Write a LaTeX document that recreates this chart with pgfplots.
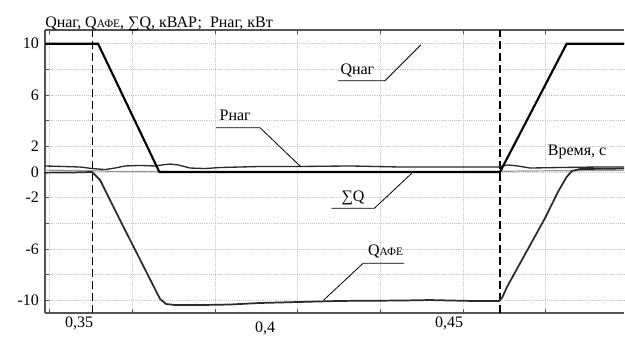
\documentclass[border=0pt]{standalone}
\usepackage{fontspec}
\setmainfont{Liberation Serif}
\usepackage{pgfplots}
\pgfplotsset{compat=1.18}
\definecolor{frame}{HTML}{555555}
\definecolor{curve}{HTML}{2A2A2A}
\newcommand\fs{\rmfamily\fontsize{12}{14}\selectfont}
\newcommand\sm{\rmfamily\fontsize{8.5}{10}\selectfont}
\begin{document}
\begin{tikzpicture}[font=\fs]
\begin{axis}[
 scale only axis, width=434.25pt, height=212.25pt,
 xmin=0.33887, xmax=0.47891, ymin=-10.99, ymax=11.07,
 axis x line*=box, axis y line*=left,
 axis line style={frame, line width=1.1pt},
 xtick={0.34,0.36,0.38,0.40,0.42,0.44,0.46}, xticklabels={,,,,,,},
 ytick={-10,-8,-6,-4,-2,0,2,4,6,8,10},
 yticklabels={-10,,-6,,-2,0,2,,6,,10},
 grid=major, major grid style={densely dotted, gray!45, line width=0.5pt},
 tick style={frame, line width=0.6pt}, major tick length=3pt, tick align=inside,
 ticklabel style={font=\fs}, yticklabel style={xshift=-1pt},
 /pgf/number format/assume math mode=true,
 clip=false,
]
\coordinate (bl) at (rel axis cs:0,0);
\coordinate (tr) at (rel axis cs:1,1);
\coordinate (tl) at (rel axis cs:0,1);
% dashed event lines
\addplot[black, line width=0.9pt, dash pattern=on 6pt off 3pt] coordinates {(0.35028,-10.99) (0.35028,11.07)};
\addplot[black, line width=0.9pt, dash pattern=on 6pt off 3pt] coordinates {(0.44892,-10.99) (0.44892,11.07)};
% Sum Q
\addplot[gray!80, line width=0.9pt] coordinates {
(0.33887,0.15) (0.34500,0.12) (0.35028,0.10) (0.35500,0.05) (0.36000,0.04) (0.38000,0.02)
(0.40000,0.03) (0.42000,0.02) (0.44000,0.03) (0.44892,0.05) (0.45500,0.08) (0.46500,0.10) (0.47891,0.12)};
% Q AFE
\addplot[curve, line width=1.3pt] coordinates {
(0.33887,-0.05) (0.34500,-0.04) (0.35028,0) (0.35219,-0.62) (0.35700,-3.74) (0.36670,-9.90)
(0.36815,-10.29) (0.37032,-10.37) (0.37637,-10.37) (0.38363,-10.33) (0.39088,-10.21)
(0.40056,-10.13) (0.41023,-10.05) (0.42474,-10.02) (0.43200,-9.98) (0.44167,-10.05)
(0.44868,-10.05) (0.44940,-9.82) (0.45061,-8.96) (0.45980,-3.60) (0.46294,-1.55)
(0.46500,-0.40) (0.46633,0.08) (0.46826,0.23) (0.47891,0.27)};
% P nag
\addplot[curve, line width=1.0pt] coordinates {
(0.33887,0.47) (0.34734,0.39) (0.35028,0.27) (0.35340,0.19) (0.35582,0.31) (0.35824,0.47)
(0.36187,0.51) (0.36550,0.47) (0.36719,0.55) (0.36913,0.62) (0.37106,0.55) (0.37396,0.31)
(0.37759,0.27) (0.38122,0.35) (0.39088,0.43) (0.40056,0.43) (0.41265,0.47) (0.42474,0.39)
(0.43683,0.39) (0.44844,0.39) (0.45085,0.55) (0.45327,0.47) (0.45617,0.31) (0.46342,0.35)
(0.47310,0.39) (0.47891,0.39)};
% Q nag
\addplot[black, line width=1.6pt] coordinates {
(0.33887,10) (0.35170,10) (0.36653,0) (0.44892,0) (0.46505,10) (0.47891,10)};
% annotations
\node[font=\fs] at (axis cs:0.41443,7.95) {Qнаг};
\draw[black, line width=0.6pt] (axis cs:0.40975,7.12) -- (axis cs:0.42111,7.12) -- (axis cs:0.42975,9.90);
\node[font=\fs] at (axis cs:0.38487,4.44) {Pнаг};
\draw[black, line width=0.6pt] (axis cs:0.38025,3.45) -- (axis cs:0.39088,3.45) -- (axis cs:0.40073,0.41);
\node[font=\fs] at (axis cs:0.41337,-2.03) {∑Q};
\draw[black, line width=0.6pt] (axis cs:0.40814,-2.83) -- (axis cs:0.41854,-2.83) -- (axis cs:0.42757,-0.10);
\node[font=\fs] at (axis cs:0.42123,-6.21) {Q{\sm АФЕ}};
\draw[black, line width=0.6pt] (axis cs:0.42571,-7.12) -- (axis cs:0.41579,-7.12) -- (axis cs:0.40628,-9.98);
\node[font=\fs] at (axis cs:0.46755,1.56) {Время, с};
\node[font=\fs] at (axis cs:0.34711,-11.77) {0,35};
\node[font=\fs] at (axis cs:0.39212,-12.16) {0,4};
\node[font=\fs] at (axis cs:0.43660,-11.77) {0,45};
\end{axis}
\node[anchor=base west, font=\fs, inner sep=0pt] at ([yshift=2.2pt]tl) {Qнаг, Q{\sm АФЕ}, ∑Q, кВАР; \ Pнаг, кВт};
\pgfresetboundingbox
\path[use as bounding box] ([xshift=-33.75pt,yshift=-23.25pt]bl) rectangle ([xshift=0.75pt,yshift=22.5pt]tr);
\end{tikzpicture}
\end{document}
